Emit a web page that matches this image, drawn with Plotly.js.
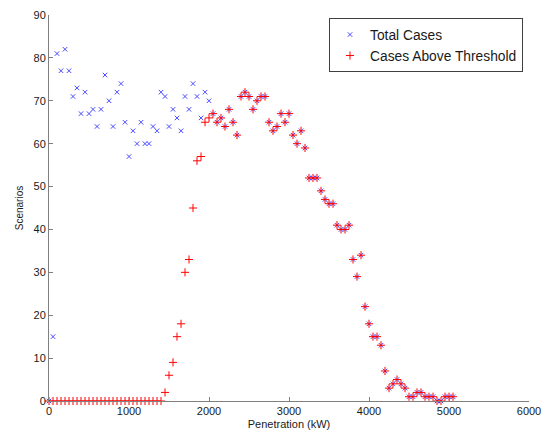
<!DOCTYPE html>
<html>
<head>
<meta charset="utf-8">
<script src="https://cdn.plot.ly/plotly-3.0.1.min.js"></script>
<style>
html,body{margin:0;padding:0;background:#fff;}
#chart{width:552px;height:434px;}
</style>
</head>
<body>
<div id="chart"></div>
<script>
// Penetration levels (kW)
var penetration = [
  0, 50, 100, 150, 200, 250, 300, 350, 400, 450,
  500, 550, 600, 650, 700, 750, 800, 850, 900, 950,
  1000, 1050, 1100, 1150, 1200, 1250, 1300, 1350, 1400, 1450,
  1500, 1550, 1600, 1650, 1700, 1750, 1800, 1850, 1900, 1950,
  2000, 2050, 2100, 2150, 2200, 2250, 2300, 2350, 2400, 2450,
  2500, 2550, 2600, 2650, 2700, 2750, 2800, 2850, 2900, 2950,
  3000, 3050, 3100, 3150, 3200, 3250, 3300, 3350, 3400, 3450,
  3500, 3550, 3600, 3650, 3700, 3750, 3800, 3850, 3900, 3950,
  4000, 4050, 4100, 4150, 4200, 4250, 4300, 4350, 4400, 4450,
  4500, 4550, 4600, 4650, 4700, 4750, 4800, 4850, 4900, 4950,
  5000, 5050
];

// Total Cases
var totalCases = [
  0, 15, 81, 77, 82, 77, 71, 73, 67, 72,
  67, 68, 64, 68, 76, 70, 64, 72, 74, 65,
  57, 63, 60, 65, 60, 60, 64, 63, 72, 71,
  64, 68, 66, 63, 71, 68, 74, 71, 66, 72,
  70, 67, 65, 66, 64, 68, 65, 62, 71, 72,
  71, 68, 70, 71, 71, 65, 63, 64, 67, 65,
  67, 62, 60, 63, 59, 52, 52, 52, 49, 47,
  46, 46, 41, 40, 40, 41, 33, 29, 34, 22,
  18, 15, 15, 13, 7, 3, 4, 5, 4, 3,
  1, 1, 2, 2, 1, 1, 1, 0, 0, 1,
  1, 1
];

// Cases Above Threshold
var aboveThreshold = [
  0, 0, 0, 0, 0, 0, 0, 0, 0, 0,
  0, 0, 0, 0, 0, 0, 0, 0, 0, 0,
  0, 0, 0, 0, 0, 0, 0, 0, 0, 2,
  6, 9, 15, 18, 30, 33, 45, 56, 57, 65,
  66, 67, 65, 66, 64, 68, 65, 62, 71, 72,
  71, 68, 70, 71, 71, 65, 63, 64, 67, 65,
  67, 62, 60, 63, 59, 52, 52, 52, 49, 47,
  46, 46, 41, 40, 40, 41, 33, 29, 34, 22,
  18, 15, 15, 13, 7, 3, 4, 5, 4, 3,
  1, 1, 2, 2, 1, 1, 1, 0, 0, 1,
  1, 1
];

var xTicks = [0, 1000, 2000, 3000, 4000, 5000, 6000];
var yTicks = [0, 10, 20, 30, 40, 50, 60, 70, 80, 90];

var FONT = 'Liberation Sans, Arial, sans-serif';

var traces = [
  {
    x: penetration, y: totalCases, name: 'Total Cases',
    type: 'scatter', mode: 'markers', cliponaxis: false,
    marker: {symbol: 'x-thin', size: 4.5, color: '#4848ff',
             line: {color: '#4848ff', width: 1}}
  },
  {
    x: penetration, y: aboveThreshold, name: 'Cases Above Threshold',
    type: 'scatter', mode: 'markers', cliponaxis: false,
    marker: {symbol: 'cross-thin', size: 5.8, color: '#ff0000',
             line: {color: '#ff0000', width: 1}}
  }
];

var axisCommon = {
  showline: true, linecolor: '#808080', linewidth: 1,
  ticks: 'inside', ticklen: 4, tickcolor: '#808080', tickwidth: 1,
  showgrid: false, zeroline: false, mirror: false,
  tickfont: {family: FONT, size: 11, color: '#1a1a1a'}
};

var layout = {
  width: 552, height: 434,
  margin: {l: 49, r: 23, t: 15, b: 33},
  paper_bgcolor: '#ffffff', plot_bgcolor: '#ffffff',
  showlegend: true,
  xaxis: Object.assign({}, axisCommon, {
    range: [0, 6000], tickvals: xTicks, ticktext: xTicks.map(String),
    title: {text: 'Penetration (kW)', font: {family: FONT, size: 11, color: '#1a1a1a'}, standoff: 4}
  }),
  yaxis: Object.assign({}, axisCommon, {
    range: [0, 90], tickvals: yTicks, ticktext: yTicks.map(String),
    title: {text: 'Scenarios', font: {family: FONT, size: 10, color: '#1a1a1a'}, standoff: 8}
  }),
  legend: {
    x: 0.9875, xanchor: 'right', y: 0.992, yanchor: 'top',
    bgcolor: '#ffffff', bordercolor: '#404040', borderwidth: 1,
    font: {family: FONT, size: 13.8, color: '#1a1a1a'},
    itemsizing: 'trace'
  }
};

Plotly.newPlot('chart', traces, layout, {displayModeBar: false, staticPlot: true});
</script>
</body>
</html>
